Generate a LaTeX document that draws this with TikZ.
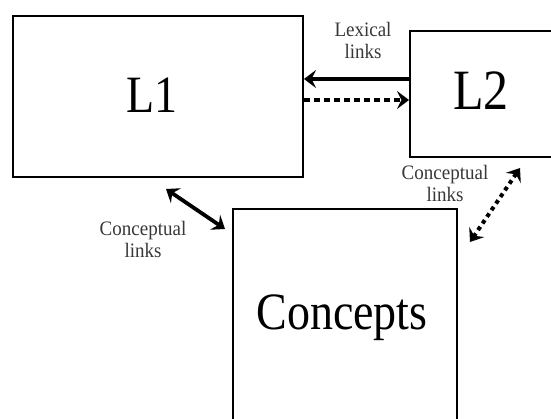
\documentclass[tikz,border=0pt]{standalone}
\usepackage{fontspec}
\setmainfont{Liberation Serif}
\usetikzlibrary{arrows.meta}
\tikzset{mytip/.tip={Stealth[length=12pt,width=18pt,inset=4.5pt]}}
\newcommand{\tallbig}[1]{\scalebox{1}[1.14]{#1}}
\newcommand{\tallsmall}[1]{\scalebox{1}[1.08]{#1}}
\begin{document}
\begin{tikzpicture}[x=1pt,y=-1pt,
  box/.style={draw=black,line width=2pt,inner sep=0pt},
  bigtext/.style={font=\fontsize{46}{50}\selectfont,inner sep=0pt,anchor=base},
  lbl/.style={font=\fontsize{19}{22.5}\selectfont,text=black!78,align=center,inner sep=0pt,anchor=base},
  solidarrow/.style={line width=3.8pt,black},
  dotarrow/.style={line width=4.5pt,black,dash pattern=on 6pt off 4pt}
]
\clip (0,0) rectangle (551,419);
\fill[white] (0,0) rectangle (551,419);
% boxes
\node[box,minimum width=290pt,minimum height=161pt] (L1) at (158,96.5) {};
\node[box,minimum width=220pt,minimum height=126pt] (L2) at (520,94) {};
\node[box,minimum width=224pt,minimum height=300pt] (C) at (345,359) {};
% big texts
\node[bigtext] (L1t) at (152,113) {\tallbig{L1}};
\node[bigtext,font=\fontsize{50}{54}\selectfont] (L2t) at (481,110) {\tallbig{L2}};
\node[bigtext] (Ct) at (342,330) {\tallbig{Concepts}};
% labels
\node[lbl] (lex) at (363,59) {\tallsmall{Lexical}\\\tallsmall{links}};
\node[lbl] (cl1) at (143,258) {\tallsmall{Conceptual}\\\tallsmall{links}};
\node[lbl] (cl2) at (445,202) {\tallsmall{Conceptual}\\\tallsmall{links}};
% lexical arrows
\draw[solidarrow,-{mytip}] (L2.west |- 0,79) -- (L1.east |- 0,79);
\draw[dotarrow,-{mytip}] (L1.east |- 0,100) -- (L2.west |- 0,100);
% conceptual arrows
\coordinate (a1) at (166,189);
\coordinate (a2) at (225,229);
\draw[solidarrow,{mytip}-{mytip}] (a1) -- (a2);
\coordinate (b1) at (520,168);
\coordinate (b2) at (470,242);
\draw[dotarrow,line width=4pt,dash pattern=on 4pt off 4pt,{mytip}-{mytip}] (b1) -- (b2);
\end{tikzpicture}
\end{document}
